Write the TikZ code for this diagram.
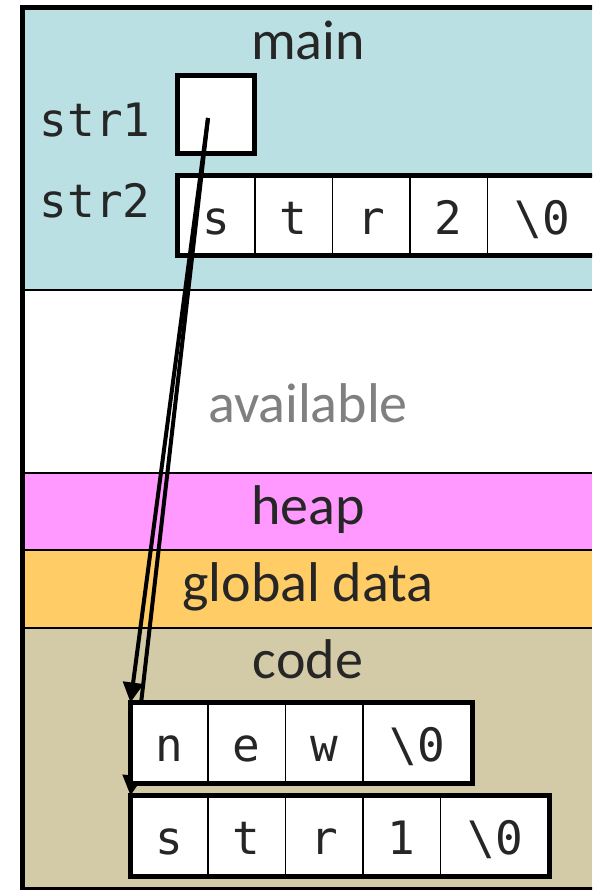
\documentclass[tikz,border=0pt]{standalone}
\usepackage{fontspec}
\setmainfont{Carlito}
\newfontfamily\monofont{DejaVu Sans Mono}
\usetikzlibrary{positioning,arrows.meta}

\definecolor{stackblue}{RGB}{186,224,227}
\definecolor{heappink}{RGB}{255,153,255}
\definecolor{globalorange}{RGB}{255,204,102}
\definecolor{codetan}{RGB}{211,202,168}
\definecolor{inkgray}{RGB}{38,38,38}

\begin{document}
\begin{tikzpicture}[x=1pt, y=1pt,
        divider/.style={line width=1.6pt},
        thickline/.style={line width=5pt},
        regionname/.style={font=\fontsize{56}{60}\selectfont, text=inkgray, anchor=base},
        varname/.style={font=\monofont\fontsize{46}{50}\selectfont, text=inkgray, anchor=base east},
        cell/.style={draw, line width=1.6pt, fill=white, inner sep=0pt, outer sep=0pt,
            minimum width=77.5pt, minimum height=80pt, text height=38pt, text depth=0pt,
            font=\monofont\fontsize{46}{50}\selectfont, text=inkgray},
        widecell/.style={cell, minimum width=109pt},
        ptrarrow/.style={line width=4pt, -{Triangle[length=20pt,width=20pt]}}
    ]
    \useasboundingbox (0,0) rectangle (592,890);
    \clip (0,0) rectangle (592,890);

    % memory regions
    \fill[stackblue] (22.5,600) rectangle (592,882);
    \fill[white] (22.5,417) rectangle (592,600);
    \fill[heappink] (22.5,340) rectangle (592,417);
    \fill[globalorange] (22.5,262) rectangle (592,340);
    \fill[codetan] (22.5,0) rectangle (592,262);

    \foreach \y in {600,417,340,262}
        \draw[divider] (22.5,\y) -- (592,\y);
    \draw[thickline] (600,882) -- (22.5,882) -- (22.5,0) -- (600,0);

    \node[regionname] (mainname) at (308,830) {main};
    \node[regionname, text=gray] (availname) at (308,467) {available};
    \node[regionname] (heapname) at (308,365) {heap};
    \node[regionname] (globalname) at (308,288) {global data};
    \node[regionname] (codename) at (308,211) {code};

    % variables of main
    \node[varname] (strone) at (154,753) {str1};
    \node[varname] (strtwo) at (154,672) {str2};

    \node[cell, thickline, anchor=north west, minimum width=77pt, minimum height=78pt]
        (ptrbox) at (177.5,814.5) {};
    \coordinate (ptr) at (208,772);

    \node[cell, anchor=north west] (s2a) at (177.5,714.5) {s};
    \node[cell, right=0pt of s2a] (s2b) {t};
    \node[cell, right=0pt of s2b] (s2c) {r};
    \node[cell, right=0pt of s2c] (s2d) {2};
    \node[widecell, right=0pt of s2d] (s2e) {\textbackslash0};
    \draw[thickline] (s2a.north west) rectangle (s2e.south east);

    % pointers into code
    \coordinate (n1top) at (130.5,187.5);
    \coordinate (s1top) at (130.5,94.5);
    \draw[ptrarrow] (ptr) -- (n1top);
    \draw[ptrarrow] (ptr) -- (s1top);

    % string literals
    \node[cell, anchor=north west, minimum height=81pt] (n1) at (n1top) {n};
    \node[cell, minimum height=81pt, right=0pt of n1] (n2) {e};
    \node[cell, minimum height=81pt, right=0pt of n2] (n3) {w};
    \node[widecell, minimum height=81pt, right=0pt of n3] (n4) {\textbackslash0};
    \draw[thickline] (n1.north west) rectangle (n4.south east);

    \node[cell, anchor=north west, minimum height=81pt] (s1a) at (s1top) {s};
    \node[cell, minimum height=81pt, right=0pt of s1a] (s1b) {t};
    \node[cell, minimum height=81pt, right=0pt of s1b] (s1c) {r};
    \node[cell, minimum height=81pt, right=0pt of s1c] (s1d) {1};
    \node[widecell, minimum height=81pt, right=0pt of s1d] (s1e) {\textbackslash0};
    \draw[thickline] (s1a.north west) rectangle (s1e.south east);
\end{tikzpicture}
\end{document}
